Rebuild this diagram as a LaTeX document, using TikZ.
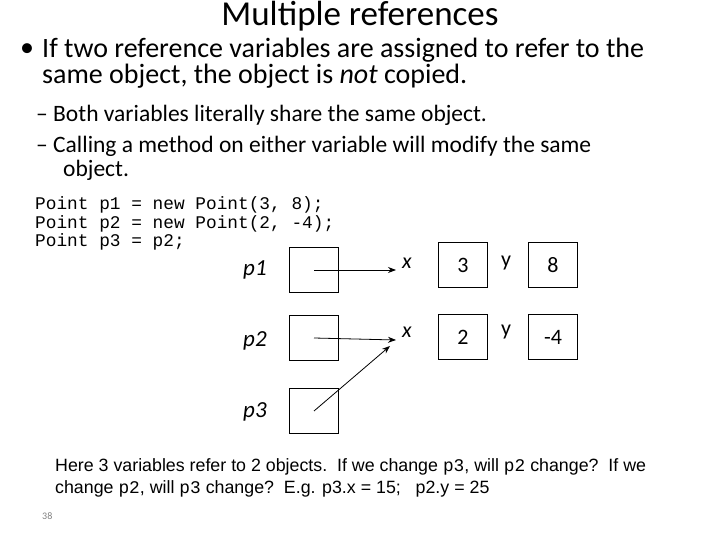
\documentclass[tikz,border=0pt]{standalone}
\usepackage{fontspec}
\setmainfont{Carlito}
\newfontfamily\monof{Liberation Mono}
\newfontfamily\arialf{Liberation Sans}
\usetikzlibrary{arrows.meta}
\begin{document}
\begin{tikzpicture}[x=1pt,y=-1pt,
  txt/.style={anchor=west,inner sep=0pt},
  cell/.style={draw,line width=0.8pt,minimum width=49pt,minimum height=45pt,inner sep=0pt,font=\fontsize{22}{26}\selectfont},
  arr/.style={-{Stealth[length=8pt]},line width=0.8pt}]
\useasboundingbox (0,0) rectangle (720,540);
\node[inner sep=0pt,font=\fontsize{35}{40}\selectfont] (title) at (360,16) {Multiple references};
\node[txt,font=\fontsize{28}{32}\selectfont] (b0) at (20,50) {•};
\node[txt,font=\fontsize{28}{32}\selectfont] (b1) at (42,50) {If two reference variables are assigned to refer to the};
\node[txt,font=\fontsize{28}{32}\selectfont] (b2) at (42,76) {same object, the object is \textit{not} copied.};
\node[txt,font=\fontsize{23.5}{28}\selectfont] (s1) at (36,115) {– Both variables literally share the same object.};
\node[txt,font=\fontsize{23.5}{28}\selectfont] (s2) at (36,146) {– Calling a method on either variable will modify the same};
\node[txt,font=\fontsize{23.5}{28}\selectfont] (s3) at (63,170) {object.};
\node[txt,font=\monof\fontsize{17.8}{20}\selectfont] (c1) at (35,205) {Point p1 = new Point(3, 8);};
\node[txt,font=\monof\fontsize{17.8}{20}\selectfont] (c2) at (35,224) {Point p2 = new Point(2, -4);};
\node[txt,font=\monof\fontsize{17.8}{20}\selectfont] (c3) at (35,242) {Point p3 = p2;};
% variables
\node[cell] (v1) at (314,270) {};
\node[cell] (v2) at (314,338) {};
\node[cell] (v3) at (314,411) {};
\node[txt,font=\fontsize{23}{26}\selectfont\itshape] (l1) at (243,270) {p1};
\node[txt,font=\fontsize{23}{26}\selectfont\itshape] (l2) at (243,341) {p2};
\node[txt,font=\fontsize{23}{26}\selectfont\itshape] (l3) at (243,412) {p3};
% objects
\node[txt,font=\fontsize{22}{26}\selectfont\itshape] (x1) at (402,263) {x};
\node[cell] (o1x) at (463,265) {3};
\node[txt,font=\fontsize{22}{26}\selectfont] (y1) at (501,263) {y};
\node[cell] (o1y) at (553,265) {8};
\node[txt,font=\fontsize{22}{26}\selectfont\itshape] (x2) at (402,332) {x};
\node[cell] (o2x) at (463,337) {2};
\node[txt,font=\fontsize{22}{26}\selectfont] (y2) at (501,332) {y};
\node[cell] (o2y) at (553,337) {-4};
\coordinate (t1) at (396,270);
\coordinate (t2) at (396,340);
\coordinate (t3) at (390,346);
\draw[arr] (v1.center) -- (t1);
\draw[arr] (v2.center) -- (t2);
\draw[arr] (v3.center) -- (t3);
\node[txt,font=\arialf\fontsize{17.8}{20}\selectfont] (n1) at (55,467) {Here 3 variables refer to 2 objects.\ \ If we change {\monof p3}, will {\monof p2} change?\ \ If we};
\node[txt,font=\arialf\fontsize{17.8}{20}\selectfont] (n2) at (55,489) {change {\monof p2}, will {\monof p3} change?\ \ E.g. p3.x = 15;\ \ \ p2.y = 25};
\node[txt,font=\fontsize{10}{12}\selectfont,text=gray] (pg) at (42,516) {38};
\end{tikzpicture}
\end{document}
